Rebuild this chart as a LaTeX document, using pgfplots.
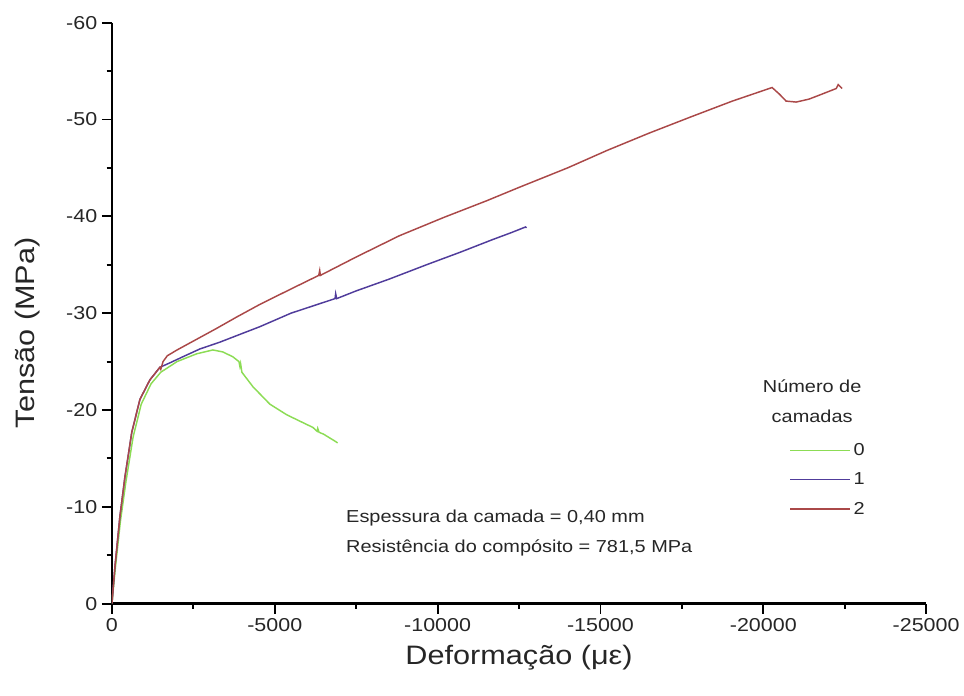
\documentclass[border=0pt]{standalone}
\usepackage{fontspec}
\setmainfont{Liberation Sans}[FakeStretch=1.15]
\usepackage{pgfplots}
\pgfplotsset{compat=1.18}
\usetikzlibrary{calc}

\definecolor{verde}{RGB}{140,220,85}
\definecolor{azul}{RGB}{80,60,155}
\definecolor{verm}{RGB}{170,72,72}

\begin{document}
\begin{tikzpicture}
\begin{axis}[
    scale only axis,
    width=611pt, height=436pt,
    x dir=reverse, y dir=reverse,
    xmin=-25000, xmax=0,
    ymin=-60, ymax=0,
    axis x line*=bottom, axis y line*=left,
    x axis line style={line width=1.8pt},
    y axis line style={line width=1.8pt},
    every tick/.style={line width=1.4pt, black},
    tick align=outside,
    major tick length=7.5pt, minor tick length=4pt,
    minor tick num=1,
    xtick={0,-5000,-10000,-15000,-20000,-25000},
    xticklabels={0,-5000,-10000,-15000,-20000,-25000},
    ytick={0,-10,-20,-30,-40,-50,-60},
    yticklabels={0,-10,-20,-30,-40,-50,-60},
    scaled ticks=false,
    ticklabel style={font=\fontsize{14pt}{16pt}\selectfont, color=black!85},
    xlabel={Deformação (με)},
    ylabel={Tensão (MPa)},
    label style={font=\fontsize{20pt}{24pt}\selectfont, color=black!85},
    xlabel style={yshift=-3pt},
    ylabel style={at={(axis description cs:-0.083,0.466)}, anchor=south},
    legend style={draw=none, fill=none, at={(0.832,0.281)}, anchor=north west,
        font=\fontsize{13pt}{15pt}\selectfont, row sep=7.5pt, inner sep=0pt,
        text=black!85},
    legend cell align=left,
    legend image code/.code={\draw[#1, line width=1pt] (0pt,0pt) -- (45pt,0pt);},
]
% 0 camadas
\addplot[verde, line width=1.1pt] coordinates {
(0,0) (-100,-3.5) (-260,-8.5) (-430,-12.6) (-650,-17.2) (-900,-20.6)
(-1200,-22.7) (-1500,-23.9) (-2000,-25.0) (-2600,-25.8) (-3100,-26.2)
(-3400,-26.0) (-3710,-25.5) (-3900,-25.0) (-3930,-24.5) (-3950,-24.8)
(-3990,-23.9) (-4330,-22.4) (-4850,-20.6) (-5370,-19.5) (-5800,-18.8)
(-6170,-18.2) (-6300,-17.8) (-6320,-18.1) (-6360,-17.7) (-6500,-17.5)
(-6840,-16.8) (-6930,-16.6)
};
% 1 camada
\addplot[azul, line width=1.1pt] coordinates {
(0,0) (-92,-3.8) (-245,-9.0) (-400,-13.1) (-610,-17.7) (-860,-21.1)
(-1165,-23.1) (-1470,-24.4) (-1800,-24.9) (-2180,-25.5) (-2700,-26.3)
(-3310,-27.0) (-4000,-27.9) (-4540,-28.6) (-5500,-30.0) (-6400,-31.0)
(-6850,-31.5) (-6870,-32.0) (-6900,-31.5) (-7500,-32.3) (-8500,-33.5)
(-9660,-35.0) (-10700,-36.3) (-11690,-37.6) (-12250,-38.3) (-12700,-38.9)
(-12730,-38.8)
};
% 2 camadas
\addplot[verm, line width=1.1pt] coordinates {
(0,0) (-92,-3.8) (-245,-9.0) (-400,-13.1) (-610,-17.7) (-860,-21.1)
(-1165,-23.1) (-1470,-24.4) (-1500,-24.2) (-1570,-25.0) (-1700,-25.6)
(-2000,-26.2) (-2600,-27.3) (-3200,-28.4) (-3830,-29.6) (-4540,-30.9)
(-5500,-32.5) (-6350,-33.9) (-6380,-34.4) (-6400,-33.9) (-7500,-35.8)
(-8830,-38.0) (-10200,-39.9) (-11500,-41.6) (-12510,-43.0) (-13990,-45.0)
(-15200,-46.8) (-16500,-48.6) (-17800,-50.3) (-19050,-51.9) (-20270,-53.3)
(-20500,-52.6) (-20700,-51.9) (-21010,-51.8) (-21400,-52.1) (-21710,-52.5)
(-22240,-53.2) (-22300,-53.6) (-22420,-53.2)
};
\legend{0,1,2}

\node[align=center, font=\fontsize{13pt}{22.5pt}\selectfont, text=black!85]
  at (axis description cs:0.86,0.348) {Número de\\camadas};
\node[align=left, anchor=west, font=\fontsize{13pt}{22.5pt}\selectfont, text=black!85]
  at (axis description cs:0.282,0.122) {Espessura da camada = 0,40 mm\\Resistência do compósito = 781,5 MPa};
\end{axis}
\path[use as bounding box] ($(current axis.south west)+(-84pt,-69pt)$)
  rectangle ($(current axis.north east)+(28pt,17pt)$);
\end{tikzpicture}
\end{document}
